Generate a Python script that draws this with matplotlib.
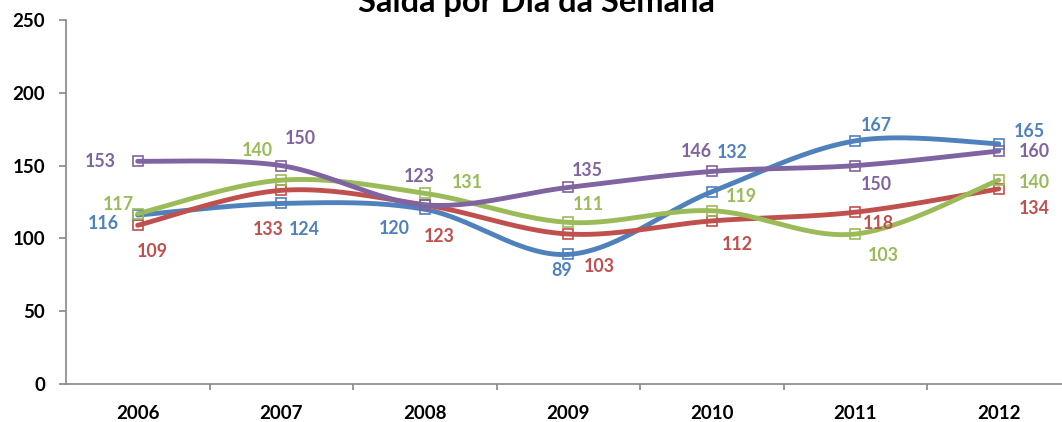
import matplotlib
matplotlib.use("Agg")
import matplotlib.pyplot as plt
import numpy as np

# --- data ---
years = ["2006", "2007", "2008", "2009", "2010", "2011", "2012"]
serie_azul = [116, 124, 120, 89, 132, 167, 165]
serie_vermelha = [109, 133, 123, 103, 112, 118, 134]
serie_verde = [117, 140, 131, 111, 119, 103, 140]
serie_roxa = [153, 150, 123, 135, 146, 150, 160]

colors = ["#4F81BD", "#C0504D", "#9BBB59", "#8064A2"]

# label offsets in pixels (dx, dy) relative to each marker, y up
label_offsets = [
    [(-34, -8), (23, -26), (-30, -19), (-7, -16), (20, 39), (21, 15), (31, 12)],
    [(15, -26), (-13, -39), (14, -32), (31, -32), (26, -24), (23, -11), (36, -20)],
    [(-19, 9), (-24, 30), (43, 11), (20, 18), (30, 14), (28, -21), (36, -2)],
    [(-37, 0), (19, 27), (-6, 28), (19, 17), (-15, 20), (21, -19), (36, 0)],
]


def smooth(xs, ys, n=40):
    """Catmull-Rom style bezier smoothing, like Excel's smoothed lines."""
    xs = np.asarray(xs, float)
    ys = np.asarray(ys, float)
    px = np.concatenate([[xs[0]], xs, [xs[-1]]])
    py = np.concatenate([[ys[0]], ys, [ys[-1]]])
    out_x, out_y = [], []
    t = np.linspace(0, 1, n)
    for i in range(1, len(px) - 2):
        p0 = np.array([px[i - 1], py[i - 1]])
        p1 = np.array([px[i], py[i]])
        p2 = np.array([px[i + 1], py[i + 1]])
        p3 = np.array([px[i + 2], py[i + 2]])
        c1 = p1 + (p2 - p0) / 6
        c2 = p2 - (p3 - p1) / 6
        b = (((1 - t) ** 3)[:, None] * p1 + (3 * (1 - t) ** 2 * t)[:, None] * c1
             + (3 * (1 - t) * t ** 2)[:, None] * c2 + (t ** 3)[:, None] * p2)
        out_x.extend(b[:, 0])
        out_y.extend(b[:, 1])
    return out_x, out_y


plt.rcParams["font.family"] = ["Lato", "DejaVu Sans"]
plt.rcParams["font.weight"] = "bold"

fig = plt.figure(figsize=(10.62, 4.22), dpi=100)
ax = fig.add_axes([66 / 1062, 38 / 422, 1004.5 / 1062, 364 / 422])

x = np.arange(len(years))
series = [serie_azul, serie_vermelha, serie_verde, serie_roxa]
for vals, col, offs in zip(series, colors, label_offsets):
    sx, sy = smooth(x, vals)
    ax.plot(sx, sy, color=col, lw=3.5, solid_capstyle="round", zorder=2)
    ax.plot(x, vals, ls="none", marker="s", ms=7.5, mfc="none", mec=col,
            mew=1.2, zorder=3)
    for xi, v, (dx, dy) in zip(x, vals, offs):
        ax.annotate(str(v), (xi, v), xytext=(dx, dy), textcoords="offset pixels",
                    ha="center", va="center", color=col, fontsize=12.8,
                    fontweight="bold", annotation_clip=False)

ax.set_xlim(-0.5, 6.5)
ax.set_ylim(0, 250)
ax.set_yticks(range(0, 251, 50))
ax.set_xticks(x)
ax.set_xticklabels(years)
ax.set_xticks(np.arange(0.5, 6.5, 1), minor=True)

for s in ["top", "right"]:
    ax.spines[s].set_visible(False)
for s in ["left", "bottom"]:
    ax.spines[s].set_color("#868686")
    ax.spines[s].set_linewidth(1.2)

ax.tick_params(axis="y", length=5, width=1.2, color="#868686", pad=10,
               labelsize=13.5)
ax.tick_params(axis="x", which="major", length=0, pad=15, labelsize=13.5)
ax.tick_params(axis="x", which="minor", length=4, width=1.2, color="#868686")
for lbl in ax.get_xticklabels() + ax.get_yticklabels():
    lbl.set_fontweight("bold")

fig.text(536 / 1062, 1 - 12 / 422, "Saída por Dia da Semana", ha="center",
         va="baseline", fontsize=23.5, fontweight="bold")

fig.savefig("out.png", dpi=100)
